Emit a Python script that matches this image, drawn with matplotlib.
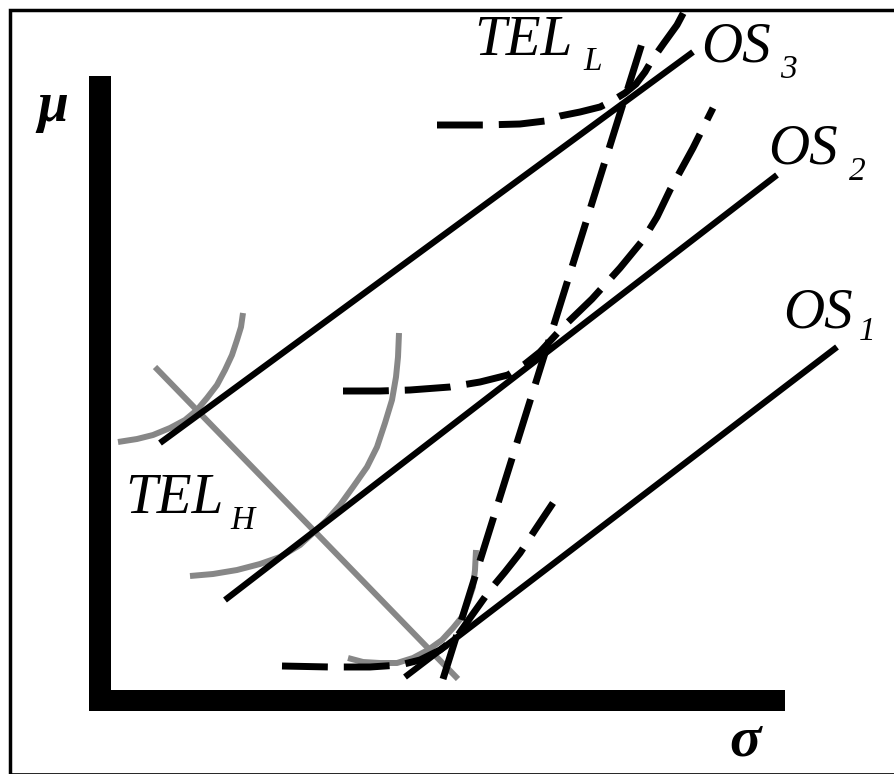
import matplotlib
matplotlib.use('Agg')
import matplotlib.pyplot as plt
from matplotlib.patches import Rectangle

# picture units: x to the right, y downwards (0..894, 0..774)

# opportunity sets (straight lines)
os1_x = [405, 837]
os1_y = [677, 347]
os2_x = [225, 777]
os2_y = [600, 175]
os3_x = [160, 693]
os3_y = [443, 52]

# TEL_H expansion line (grey) and TEL_L (dashed)
telh_x = [155, 458]
telh_y = [367, 679]
tell_x = [443, 643]
tell_y = [679, 40]

# grey indifference curves (high risk tolerance)
g1_x = [118, 137, 153, 170, 185, 197, 207, 217, 225, 232, 237, 241, 243]
g1_y = [442, 439, 435, 428, 420, 410, 398, 385, 370, 355, 340, 327, 313]
g2_x = [190, 213, 237, 260, 280, 300, 313, 327, 340, 353, 367, 377, 385, 392, 396, 398, 399]
g2_y = [576, 574, 570, 564, 557, 545, 533, 520, 505, 487, 467, 447, 423, 400, 377, 357, 333]
g3_x = [348, 363, 380, 397, 413, 428, 442, 453, 462, 468, 473, 475, 476]
g3_y = [658, 662, 663, 663, 658, 650, 640, 628, 617, 602, 587, 570, 550]

# dashed indifference curves (low risk tolerance)
d1_x = [282, 330, 370, 400, 420, 440, 456, 470, 490, 505, 520, 535, 553]
d1_y = [666, 667, 667, 665, 660, 650, 638, 618, 590, 572, 553, 530, 503]
d2_x = [343, 380, 410, 450, 480, 508, 525, 540, 563, 592, 620, 643, 657, 670, 693, 713]
d2_y = [391, 391, 390, 387, 382, 375, 364, 352, 327, 299, 268, 240, 217, 190, 148, 108]
d3_x = [437, 483, 520, 545, 560, 580, 600, 612, 625, 636, 645, 652, 664, 677, 686]
d3_y = [125, 125, 124, 121, 116, 112, 107, 101, 93, 84, 72, 60, 43, 25, 8]

BLACK = 'black'
GREY = '#878787'

fig = plt.figure(figsize=(8.94, 7.74), dpi=100)
ax = fig.add_axes([0, 0, 1, 1])
ax.set_xlim(0, 894)
ax.set_ylim(774, 0)
ax.axis('off')

# outer frame
ax.plot([10, 10, 894], [774, 10, 10], color=BLACK, lw=2.5, solid_joinstyle='miter')
ax.plot([10, 894], [773.5, 773.5], color=BLACK, lw=1.2)

# thick axes
ax.add_patch(Rectangle((89, 76), 22, 635, color=BLACK, lw=0))
ax.add_patch(Rectangle((89, 690), 696, 21, color=BLACK, lw=0))

# grey stuff
for gx, gy in [(g1_x, g1_y), (g2_x, g2_y), (g3_x, g3_y), (telh_x, telh_y)]:
    ax.plot(gx, gy, color=GREY, lw=4.3, solid_capstyle='butt', solid_joinstyle='round')

# solid opportunity lines
for lx, ly in [(os1_x, os1_y), (os2_x, os2_y), (os3_x, os3_y)]:
    ax.plot(lx, ly, color=BLACK, lw=4.5, solid_capstyle='butt')

# dashed curves and TEL_L
for dx, dy in [(d1_x, d1_y), (d2_x, d2_y), (d3_x, d3_y), (tell_x, tell_y)]:
    ax.plot(dx, dy, color=BLACK, lw=5, dashes=(6.6, 2.3),
            dash_capstyle='butt', dash_joinstyle='round')

serif = 'Liberation Serif'
big = 41
small = 24
ax.text(37, 121, 'μ', fontsize=40, family=serif, style='italic', weight='bold', va='baseline')
ax.text(729, 756, 'σ', fontsize=42, family=serif, style='italic', weight='bold', va='baseline')

ax.text(474, 55, 'TEL', fontsize=big, family=serif, style='italic', va='baseline')
ax.text(583, 70, 'L', fontsize=small, family=serif, style='italic', va='baseline')
ax.text(125, 513, 'TEL', fontsize=big, family=serif, style='italic', va='baseline')
ax.text(230, 529, 'H', fontsize=small, family=serif, style='italic', va='baseline')

ax.text(701, 62, 'OS', fontsize=big, family=serif, style='italic', va='baseline')
ax.text(780, 78, '3', fontsize=small, family=serif, style='italic', va='baseline')
ax.text(768, 163, 'OS', fontsize=big, family=serif, style='italic', va='baseline')
ax.text(849, 180, '2', fontsize=small, family=serif, style='italic', va='baseline')
ax.text(783, 328, 'OS', fontsize=big, family=serif, style='italic', va='baseline')
ax.text(859, 340, '1', fontsize=small, family=serif, style='italic', va='baseline')

fig.savefig('out.png', dpi=100)
